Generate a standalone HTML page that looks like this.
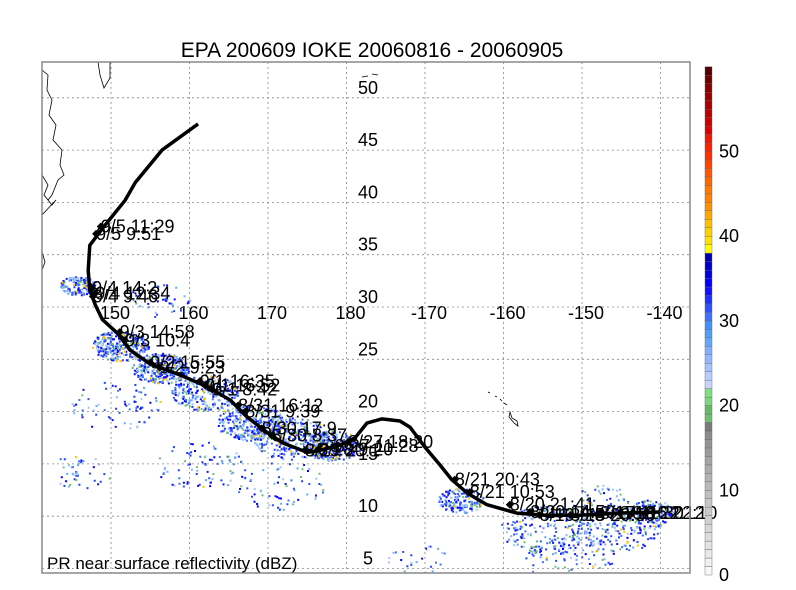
<!DOCTYPE html>
<html><head><meta charset="utf-8">
<style>
html,body{margin:0;padding:0;background:#fff;}
svg{display:block;font-family:"Liberation Sans",sans-serif;}
</style></head>
<body>
<svg id="chart" width="796" height="590" viewBox="0 0 796 590">
  <defs><clipPath id="frameclip"><rect x="42" y="62" width="648" height="511"/></clipPath></defs>
  <text x="372" y="57" text-anchor="middle" font-size="21">EPA 200609 IOKE 20060816 - 20060905</text>
  <g id="rain" clip-path="url(#frameclip)"></g>
  <g id="grid"></g>
  <g id="coast" clip-path="url(#frameclip)" fill="none" stroke="#000" stroke-width="0.8">
    <path d="M42,70 L48,75 L47,90 L52,100 L49,115 L56,125 L53,140 L62,150 L60,165 L64,175 L58,180 L52,195 L48,200"/>
    <path d="M42,175 L48,185 L44,195 L52,205 L56,200 L42,215"/>
    <path d="M42,252 L45,262 L42,270"/>
    <path d="M98,62 L100,75 L104,88 L110,78 L110,62"/>
    <path d="M510,412 L512,418 L517,421 L518,426 L514,423 L509,417 Z"/>
    <path d="M504,403 L507,405 M500,399 L502,401 M495,396 L497,397 M488,392 L490,393"/>
    <path d="M362,77 L368,76 M372,74 L378,75"/>
  </g>
  <g id="track"></g>
  <g id="labels" font-size="18"></g>
  <rect x="42" y="62" width="648" height="511" fill="none" stroke="#888" stroke-width="1.5"/>
  <text x="47" y="569" font-size="17">PR near surface reflectivity (dBZ)</text>
  <g id="cbar"></g>
</svg>
<script>
// ---- data ----
const lonTicks = [150, 160, 170, 180, 190, 200, 210, 220];
const lonTickLabels = ["150", "160", "170", "180", "-170", "-160", "-150", "-140"];
const latTicks = [5, 10, 15, 20, 25, 30, 35, 40, 45, 50];
const trackLon = [161.1,156.5,153.1,151.8,149.0,147.3,147.1,147.3,148.0,148.9,150.8,152.4,154.9,158.8,162.2,165.2,167.3,169.9,171.9,175.0,176.6,179.2,181.1,182.6,184.5,186.8,188.1,190.0,191.9,193.4,195.4,197.9,201.7,205.3,209.7,214.8,219.9];
const trackLat = [47.5,45.0,41.9,40.2,37.6,35.9,33.5,31.6,30.2,28.8,27.5,25.9,24.6,23.5,22.4,21.1,19.5,18.0,17.0,16.1,16.3,16.8,17.5,18.9,19.3,19.1,18.5,16.6,14.9,13.5,12.2,11.1,10.3,10.1,10.1,10.3,10.4];
const labelText = ["9/5 11:29","9/5 9:51","9/4 14:2","9/4 12:34","9/4 9:46","9/3 14:58","9/3 10:4","9/2 15:55","9/2 9:23","9/1 16:35","9/1 16:52","9/1 8:42","8/31 16:12","8/31 9:39","8/30 17:9","8/30 8:37","8/29 20:1","8/28 9:20","8/27 18:20","8/27 11:28","8/21 20:43","8/21 10:53","8/20 21:41","8/20 14:50","8/19 9:5","8/18 20:56","8/17 11:30","8/16 22:12","8/16 22:10"];
const labelLon = [148.7,148.1,147.6,148.0,147.7,151.1,151.8,155.0,156.2,161.3,162.0,162.9,166.2,167.1,169.2,170.5,174.7,176.4,180.2,178.5,193.8,195.7,200.8,203.4,204.6,208.5,212.3,214.8,216.4];
const labelLat = [37.7,37.0,31.8,31.3,31.0,27.6,26.8,24.7,24.2,22.9,22.5,22.1,20.6,20.0,18.4,17.7,16.3,16.4,17.1,16.7,13.5,12.3,11.1,10.4,10.1,10.1,10.3,10.3,10.3];
const cbarLevels = [0,10,20,30,40,50];
const cbarColors = ["#f8f8f8","#f0f0f0","#e8e8e8","#e2e2e2","#dcdcdc","#d6d6d6","#d0d0d0","#cacaca","#c4c4c4","#bebebe","#b8b8b8","#b2b2b2","#acacac","#a4a4a4","#9c9c9c","#949494","#8c8c8c","#7a7a7a","#70c070","#66bb66","#7cd87c","#80e080","#c8d4ff","#b8ccff","#a4c4ff","#90b8ff","#80b0ff","#60a8ff","#50a0f8","#4090ff","#4070ff","#3050ff","#2030ff","#1010ff","#0000ff","#0000e0","#0000c8","#0000b0","#ffff00","#ffe000","#ffd000","#ffc000","#ffa800","#ff9000","#ff8000","#ff7800","#ff6800","#ff5800","#ff4400","#ff3000","#ff2000","#f01800","#e00000","#cc0000","#bb0000","#aa0000","#990000","#880000","#700000","#550000"];

// ---- axes ----
const xOf = lon => 111 + (lon - 150) * 7.85;
const yOf = lat => 307 - (lat - 30) * 10.46;
const cY = v => 575 - v * 8.47;
const NS = "http://www.w3.org/2000/svg";
function mk(tag, parent, attrs) { const e = document.createElementNS(NS, tag); for (const k in attrs) e.setAttribute(k, attrs[k]); parent.appendChild(e); return e; }

// rain texture (deterministic decorative background)
const rain = document.getElementById('rain');
let seed = 12345;
function rnd() { seed = (seed * 1103515245 + 12345) % 2147483648; return seed / 2147483648; }
const clusters = [[78,285,14,160],[120,345,22,300],[160,368,22,300],[205,392,26,260],[250,422,26,300],[290,438,30,280],[332,445,22,260],[115,405,35,70],[200,465,35,80],[280,485,35,70],[80,470,25,40],[460,500,18,160],[545,530,35,200],[615,528,35,200],[650,512,18,140],[570,560,35,70],[420,560,25,25],[160,300,25,40],[600,500,22,60]];
const rainCols = ["#2040ff","#0000ff","#4070ff","#60a8ff","#80b0ff","#70c070","#a4c4ff","#1010ff","#3050ff","#ffc000"];
const byCol = {};
clusters.forEach(c => {
  for (let i = 0; i < c[3]; i++) {
    const a = rnd() * 6.283, r = Math.sqrt(rnd()) * c[2];
    const x = c[0] + Math.cos(a) * r * 1.3, y = c[1] + Math.sin(a) * r * 0.7;
    let ci = Math.floor(rnd() * rainCols.length);
    if (ci === 9 && rnd() < 0.7) ci = 0;
    (byCol[ci] = byCol[ci] || []).push('M' + x.toFixed(1) + ',' + y.toFixed(1) + 'h2v2h-2z');
  }
});
for (const ci in byCol) {
  const p = mk('path', rain, {d: byCol[ci].join(''), fill: rainCols[ci]});
  
  
}

// grid
const grid = document.getElementById('grid');
lonTicks.forEach((lon, i) => {
  const l = mk('line', grid, {x1: xOf(lon), x2: xOf(lon), y1: 62, y2: 573, stroke: '#888', 'stroke-dasharray': '2,3', 'stroke-width': 0.8});
  
  
  const t = mk('text', grid, {x: xOf(lon) + 4, y: 319, 'text-anchor': 'middle', 'font-size': 18});
  t.textContent = lonTickLabels[i];
  
  
});
latTicks.forEach(lat => {
  const l = mk('line', grid, {x1: 42, x2: 690, y1: yOf(lat), y2: yOf(lat), stroke: '#888', 'stroke-dasharray': '2,3', 'stroke-width': 0.8});
  
  
  const t = mk('text', grid, {x: 368, y: yOf(lat) - 4, 'text-anchor': 'middle', 'font-size': 18});
  t.textContent = String(lat);
  
  
});

// track
const track = document.getElementById('track');
const pts = trackLon.map((lon, i) => xOf(lon).toFixed(1) + ',' + yOf(trackLat[i]).toFixed(1)).join(' ');
const pl = mk('polyline', track, {points: pts, fill: 'none', stroke: '#000', 'stroke-width': 3.5, 'stroke-linejoin': 'round'});



// labels + markers
const labels = document.getElementById('labels');
labelText.forEach((s, i) => {
  const x = xOf(labelLon[i]), y = yOf(labelLat[i]);
  const m = mk('path', labels, {d: `M${x-4},${y}l4,-4l4,4l-4,4z`, fill: '#000'});
  
  
  const t = mk('text', labels, {x: x, y: y + 6});
  t.textContent = s;
  
  
});

// colorbar
const cb = document.getElementById('cbar');
cbarColors.forEach((c, v) => {
  const r = mk('rect', cb, {x: 705, y: cY(v + 1), width: 7, height: 8.47, fill: c, stroke: '#666', 'stroke-width': 0.4});
  
  
});
cbarLevels.forEach(v => {
  const t = mk('text', cb, {x: 719, y: cY(v) + 6, 'font-size': 18});
  t.textContent = String(v);
  
  
});
</script>
</body></html>
